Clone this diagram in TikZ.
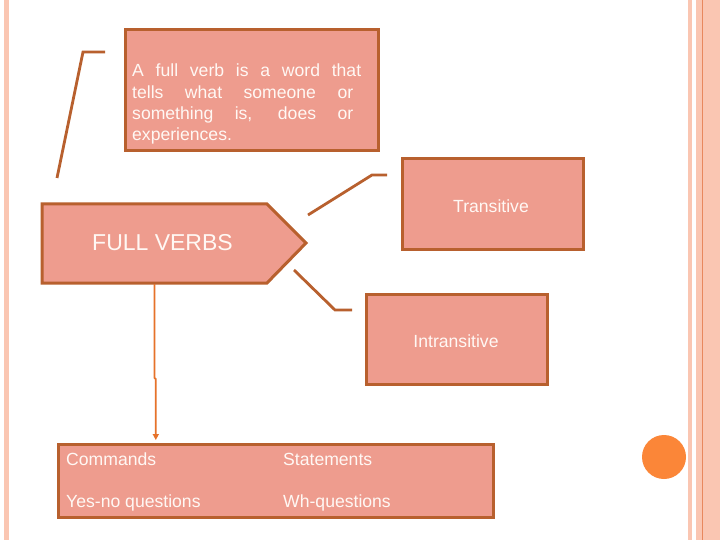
\documentclass[tikz,border=0pt]{standalone}
\usepackage{fontspec}
\setmainfont{Liberation Sans}
\usetikzlibrary{arrows.meta}
\definecolor{boxfill}{HTML}{EE9C8E}
\definecolor{boxline}{HTML}{B8602E}
\definecolor{arrowc}{HTML}{E6722A}
\definecolor{strip}{HTML}{FAC6B2}
\definecolor{stripline}{HTML}{E8885E}
\definecolor{dot}{HTML}{FB8638}
\definecolor{txt}{HTML}{FFF8F4}
\tikzset{
  boxst/.style={draw=boxline, fill=boxfill, line width=3pt},
  conn/.style={draw=boxline, line width=2.8pt},
  lbl/.style={text=txt, font=\fontsize{17.6}{21.3}\selectfont, inner sep=0pt},
}
\begin{document}
\begin{tikzpicture}[x=1pt,y=-1pt]
\useasboundingbox (0,0) rectangle (720,540);
\fill[white] (0,0) rectangle (720,540);
% side strips
\fill[strip] (4,0) rectangle (9,540);
\fill[strip] (688,0) rectangle (692,540);
\fill[strip] (696,0) rectangle (720,540);
\draw[stripline, line width=0.8pt] (702.5,0) -- (702.5,540);
\fill[dot] (664,457) circle (22);
% definition box
\draw[boxst] (125,30) rectangle (378,151);
\node[lbl, anchor=north west, align=left] (def) at (132,64)
  {\makebox[229pt][s]{A full verb is a word that}\\
   \makebox[221pt][s]{tells what someone or}\\
   \makebox[221pt][s]{something is, does or}\\
   experiences.};
\coordinate (d1) at (105,52);
\draw[conn] (d1) -- (83,52) -- (57,178);
% FULL VERBS pentagon
\draw[boxst] (42,204) -- (267,204) -- (306,243) -- (267,283) -- (42,283) -- cycle;
\node[lbl, font=\fontsize{23}{27}\selectfont, anchor=west] (fv) at (92,242.5) {FULL VERBS};
\coordinate (fvb) at (154.5,284);
% Transitive
\draw[boxst] (402,159) rectangle (583,249);
\node[lbl] (tr) at (491,206) {Transitive};
\coordinate (t1) at (308,215);
\draw[conn] (t1) -- (372,175) -- (387,175);
% Intransitive
\draw[boxst] (366,294) rectangle (547,384);
\node[lbl] (intr) at (456,341) {Intransitive};
\coordinate (i1) at (294,270);
\draw[conn] (i1) -- (335,310) -- (352,310);
% bottom box
\draw[boxst] (58,444) rectangle (493,517);
\node[lbl, anchor=base west] (cmd) at (66,465.5) {Commands};
\node[lbl, anchor=base west] (st) at (283,465.5) {Statements};
\node[lbl, anchor=base west] (yn) at (66,507.5) {Yes-no questions};
\node[lbl, anchor=base west] (wh) at (283,507.5) {Wh-questions};
\coordinate (bt) at (155.8,440);
\draw[arrowc, line width=1.7pt, -{Triangle[length=6pt,width=6pt]}] (fvb) -- (154.5,378) -- (155.8,379) -- (bt);
\end{tikzpicture}
\end{document}
